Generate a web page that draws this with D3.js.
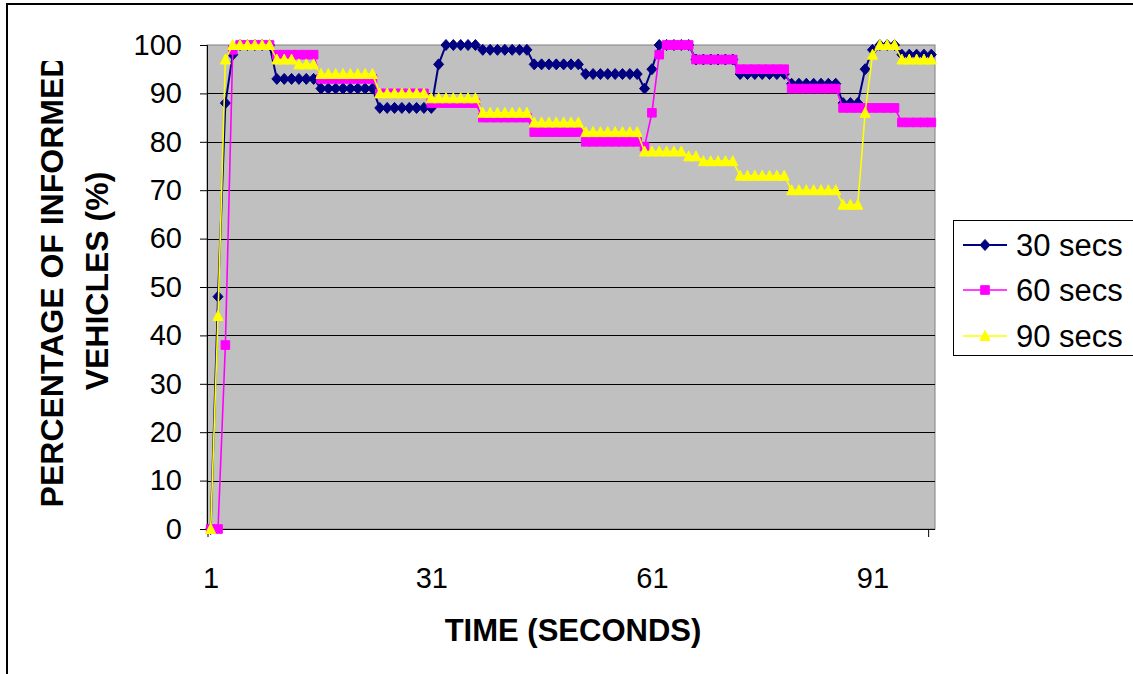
<!DOCTYPE html>
<html><head><meta charset="utf-8">
<script src="https://cdn.jsdelivr.net/npm/d3@7"></script>
<style>body{margin:0;background:#fff}svg{display:block;font-family:Arial,"Liberation Sans",sans-serif}</style>
</head><body><svg id="c" width="1133" height="674"></svg>
<script>
const categories = [1,2,3,4,5,6,7,8,9,10,11,12,13,14,15,16,17,18,19,20,21,22,23,24,25,26,27,28,29,30,31,32,33,34,35,36,37,38,39,40,41,42,43,44,45,46,47,48,49,50,51,52,53,54,55,56,57,58,59,60,61,62,63,64,65,66,67,68,69,70,71,72,73,74,75,76,77,78,79,80,81,82,83,84,85,86,87,88,89,90,91,92,93,94,95,96,97,98,99];
const xTickLabels = [1,31,61,91];
const yTicks = [0,10,20,30,40,50,60,70,80,90,100];
const seriesNames = ["30 secs","60 secs","90 secs"];
const secs30 = [0,48,88,98,100,100,100,100,100,93,93,93,93,93,93,91,91,91,91,91,91,91,91,87,87,87,87,87,87,87,87,96,100,100,100,100,100,99,99,99,99,99,99,99,96,96,96,96,96,96,96,94,94,94,94,94,94,94,94,91,95,100,100,100,100,100,97,97,97,97,97,97,94,94,94,94,94,94,94,92,92,92,92,92,92,92,88,88,88,95,99,100,100,100,98,98,98,98,98];
const secs60 = [0,0,38,99,100,100,100,100,100,98,98,98,98,98,98,93,93,93,93,93,93,93,93,90,90,90,90,90,90,90,88,88,88,88,88,88,88,85,85,85,85,85,85,85,82,82,82,82,82,82,82,80,80,80,80,80,80,80,80,79,86,98,100,100,100,100,97,97,97,97,97,97,95,95,95,95,95,95,95,91,91,91,91,91,91,91,87,87,87,87,87,87,87,87,84,84,84,84,84];
const secs90 = [0,44,97,100,100,100,100,100,100,97,97,97,96,96,96,94,94,94,94,94,94,94,94,90,90,90,90,90,90,90,89,89,89,89,89,89,89,86,86,86,86,86,86,86,84,84,84,84,84,84,84,82,82,82,82,82,82,82,82,78,78,78,78,78,78,77,77,76,76,76,76,76,73,73,73,73,73,73,73,70,70,70,70,70,70,70,67,67,67,86,98,100,100,100,97,97,97,97,97];
const colors = ["#000080","#FF00FF","#FFFF00"];

const svg = d3.select('#c');
// outer frame
svg.append('rect').attr('x',7).attr('y',4).attr('width',1140).attr('height',700)
  .attr('fill','#fff').attr('stroke','#000').attr('stroke-width',2);

const L=207,R=935,T=45,B=529;
const x = d3.scaleBand().domain(categories).range([L,R]).padding(0);
const cx = c => x(c)+x.bandwidth()/2;
const y = d3.scaleLinear().domain([0,100]).range([B,T]);

// plot area
svg.append('rect').attr('x',L).attr('y',T).attr('width',R-L).attr('height',B-T)
  .attr('fill','#C0C0C0').attr('stroke','#808080').attr('stroke-width',1);
// gridlines
svg.append('g').selectAll('line').data(yTicks.filter(v=>v>0&&v<100)).join('line')
  .attr('x1',L).attr('x2',R).attr('y1',d=>Math.round(y(d))+0.5).attr('y2',d=>Math.round(y(d))+0.5)
  .attr('stroke','#000').attr('stroke-width',1);

// y axis
const ya = svg.append('g').attr('transform',`translate(${L},0)`)
  .call(d3.axisLeft(y).tickValues(yTicks).tickSize(7).tickPadding(18));
ya.select('.domain').attr('stroke','#000');
ya.selectAll('.tick line').attr('stroke','#000');
ya.selectAll('text').attr('font-size',29).attr('font-family','Arial, "Liberation Sans", sans-serif').attr('fill','#000');

// x axis
const xa = svg.append('g').attr('transform',`translate(0,${B})`)
  .call(d3.axisBottom(d3.scalePoint().domain(categories).range([cx(1),cx(99)])).tickValues(xTickLabels).tickSize(0).tickPadding(38));
xa.select('.domain').attr('d',`M${L},0.5H${R}`).attr('stroke','#000');
xa.selectAll('text').attr('font-size',29).attr('font-family','Arial, "Liberation Sans", sans-serif').attr('fill','#000');
svg.append('g').selectAll('line').data([1,99]).join('line')
  .attr('x1',d=>x(d)+1).attr('x2',d=>x(d)+1).attr('y1',B).attr('y2',B+8).attr('stroke','#000');

// markers
function marker(i){
  if(i===0) return 'M0,-5.5L5,0L0,5.5L-5,0Z';
  if(i===1) return 'M-4.3,-4.3H4.3V4.3H-4.3Z';
  return 'M0,-5.5L5,4.5L-5,4.5Z';
}
const allSeries=[secs30,secs60,secs90];
allSeries.forEach((s,i)=>{
  const g=svg.append('g');
  const line=d3.line().x((d,k)=>cx(categories[k])).y(d=>y(d));
  g.append('path').attr('d',line(s)).attr('fill','none').attr('stroke',colors[i])
    .attr('stroke-width',i===0?2:1.6);
  g.selectAll('path.m').data(s).join('path').attr('class','m')
    .attr('transform',(d,k)=>`translate(${cx(categories[k])},${y(d)})`)
    .attr('d',marker(i)).attr('fill',colors[i]).attr('stroke',colors[i]).attr('stroke-width',1);
});

// axis titles
svg.append('text').attr('x',573).attr('y',641).attr('text-anchor','middle')
  .attr('font-size',31).attr('font-weight','bold').text('TIME (SECONDS)');
svg.append('clipPath').attr('id','yclip').append('rect').attr('x',0).attr('y',61).attr('width',200).attr('height',600);
const yt = svg.append('g').attr('clip-path','url(#yclip)');
yt.append('text').attr('transform','translate(63,281) rotate(-90)').attr('text-anchor','middle')
  .attr('font-size',32).attr('font-weight','bold').text('PERCENTAGE OF INFORMED');
yt.append('text').attr('transform','translate(108,281) rotate(-90)').attr('text-anchor','middle')
  .attr('font-size',32).attr('font-weight','bold').text('VEHICLES (%)');

// legend
const lg = svg.append('g');
lg.append('rect').attr('x',953.5).attr('y',220.5).attr('width',200).attr('height',135)
  .attr('fill','#fff').attr('stroke','#000').attr('stroke-width',1);
const ly=[245,290,336];
seriesNames.forEach((n,i)=>{
  lg.append('line').attr('x1',963).attr('x2',1007).attr('y1',ly[i]).attr('y2',ly[i]).attr('stroke',colors[i]).attr('stroke-width',i===0?2:1.6);
  lg.append('path').attr('transform',`translate(985,${ly[i]})`).attr('d',marker(i)).attr('fill',colors[i]).attr('stroke',colors[i]);
  lg.append('text').attr('x',1016).attr('y',ly[i]).attr('dy','0.36em').attr('font-size',31).text(n);
});
</script></body></html>
